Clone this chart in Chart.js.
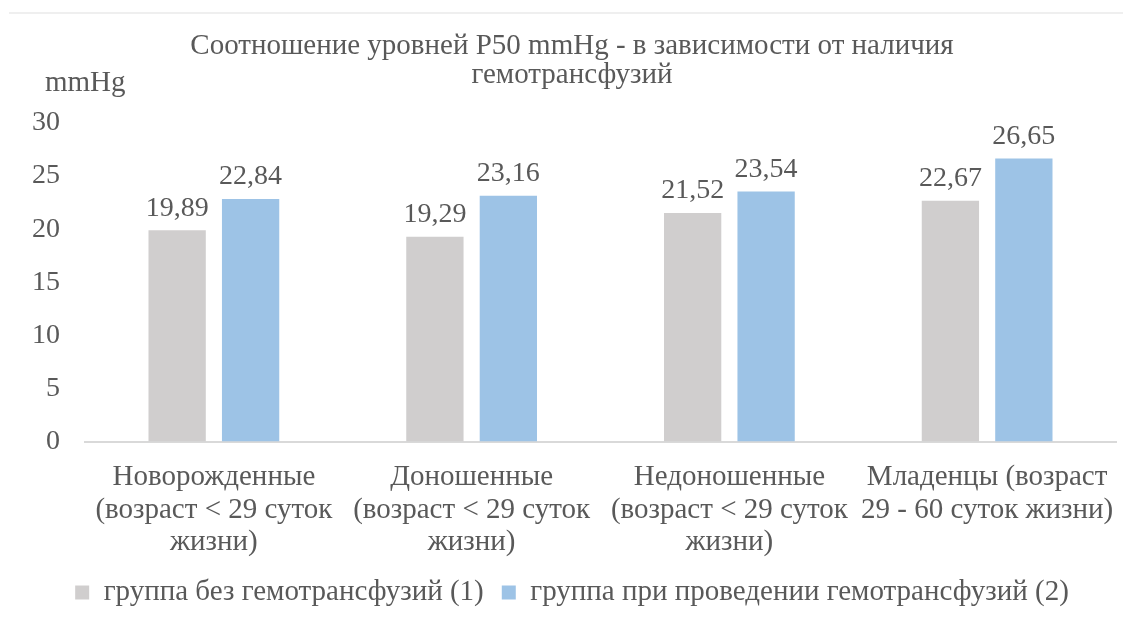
<!DOCTYPE html>
<html>
<head>
<meta charset="utf-8">
<script src="https://cdn.jsdelivr.net/npm/chart.js@4.4.1/dist/chart.umd.min.js"></script>
<style>
  html, body { margin: 0; padding: 0; background: #fff; }
  #wrap { position: relative; width: 1123px; height: 626px; }
  #topline { position: absolute; left: 9px; top: 12px; width: 1114px; height: 2px; background: #efefef; }
</style>
</head>
<body>
<div id="wrap">
  <div id="topline"></div>
  <canvas id="chart" width="1123" height="626"></canvas>
</div>
<script>
// data
const categories = [
    ['Новорожденные', '(возраст < 29 суток', 'жизни)'],
    ['Доношенные', '(возраст < 29 суток', 'жизни)'],
    ['Недоношенные', '(возраст < 29 суток', 'жизни)'],
    ['Младенцы (возраст', '29 - 60 суток жизни)']
];
const withoutTransfusion = [19.89, 19.29, 21.52, 22.67];
const withTransfusion = [22.84, 23.16, 23.54, 26.65];
const seriesNames = ['группа без гемотрансфузий (1)', 'группа при проведении гемотрансфузий (2)'];
const titleLines = ['Соотношение уровней Р50 mmHg - в зависимости от наличия', 'гемотрансфузий'];
const yTicks = [0, 5, 10, 15, 20, 25, 30];

const FONT = "'Liberation Serif', 'Times New Roman', serif";
const TEXT = '#595959';

// values above bars, comma decimals
const valueLabels = {
    id: 'valueLabels',
    afterDatasetsDraw(chart) {
        const ctx = chart.ctx;
        ctx.save();
        ctx.font = '28px ' + FONT;
        ctx.fillStyle = TEXT;
        ctx.textAlign = 'center';
        ctx.textBaseline = 'bottom';
        chart.data.datasets.forEach((ds, i) => {
            chart.getDatasetMeta(i).data.forEach((bar, j) => {
                ctx.fillText(ds.data[j].toFixed(2).replace('.', ','), bar.x, bar.y - 8);
            });
        });
        ctx.restore();
    }
};

// "mmHg" unit above the y axis
const unitLabel = {
    id: 'unitLabel',
    afterDraw(chart) {
        const ctx = chart.ctx;
        ctx.save();
        ctx.font = '29px ' + FONT;
        ctx.fillStyle = TEXT;
        ctx.textAlign = 'left';
        ctx.textBaseline = 'middle';
        ctx.fillText('mmHg', 45, chart.chartArea.top - 40);
        ctx.restore();
    }
};

new Chart(document.getElementById('chart'), {
    type: 'bar',
    data: {
        labels: categories,
        datasets: [
            { label: seriesNames[0], data: withoutTransfusion, backgroundColor: '#d0cece' },
            { label: seriesNames[1], data: withTransfusion, backgroundColor: '#9dc3e6' }
        ]
    },
    options: {
        responsive: false,
        animation: false,
        categoryPercentage: 0.57,
        barPercentage: 0.78,
        layout: { padding: { left: 28, right: 7, top: 0, bottom: 9 } },
        plugins: {
            title: {
                display: true,
                text: titleLines,
                color: TEXT,
                font: { family: FONT, size: 29, weight: 'normal', lineHeight: 1.0 },
                padding: { top: 32, bottom: 33 }
            },
            legend: {
                position: 'bottom',
                labels: {
                    color: TEXT,
                    font: { family: FONT, size: 29 },
                    boxWidth: 14,
                    boxHeight: 14,
                    padding: 18
                }
            },
            tooltip: { enabled: false }
        },
        scales: {
            x: {
                grid: { display: false, drawTicks: false },
                border: { color: '#d9d9d9', width: 2 },
                ticks: {
                    color: TEXT,
                    font: { family: FONT, size: 29, lineHeight: 1.12 },
                    maxRotation: 0,
                    autoSkip: false,
                    padding: 20
                },
                // labels may run into the legend band and past the plot edges, as in the original
                afterFit(scale) {
                    scale.height -= 19;
                    scale.paddingLeft = 0;
                    scale.paddingRight = 0;
                }
            },
            y: {
                min: 0,
                max: 30,
                afterBuildTicks(scale) { scale.ticks = yTicks.map(v => ({ value: v })); },
                grid: { display: false, drawTicks: false },
                border: { display: false },
                ticks: {
                    color: TEXT,
                    font: { family: FONT, size: 28 },
                    padding: 25
                },
                afterFit(scale) { scale.width = 57; }
            }
        }
    },
    plugins: [valueLabels, unitLabel]
});
</script>
</body>
</html>
